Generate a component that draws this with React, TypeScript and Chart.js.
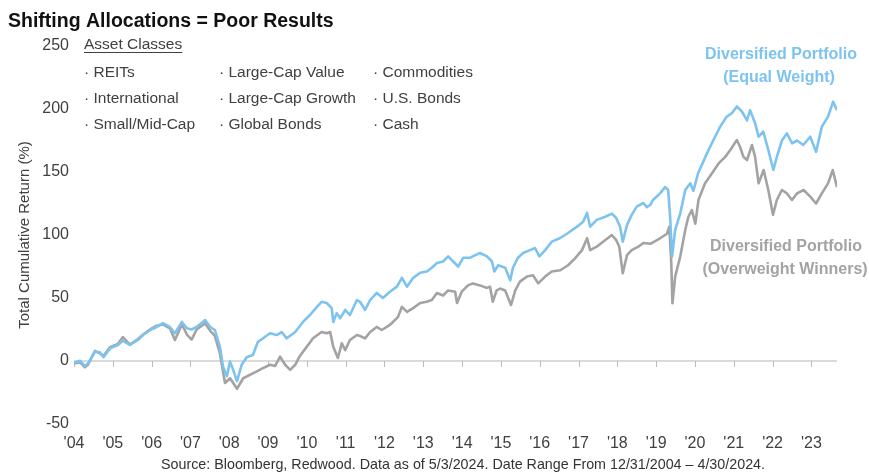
import React, { useEffect, useRef } from "react";
import { Chart, registerables } from "chart.js";

Chart.register(...registerables);

const START_YEAR = 2004;
const tickLabels = ["'04", "'05", "'06", "'07", "'08", "'09", "'10", "'11", "'12", "'13", "'14", "'15", "'16", "'17", "'18", "'19", "'20", "'21", "'22", "'23"];
const yTicks = [-50, 0, 50, 100, 150, 200, 250];

const assetClasses = [
  ["REITs", "Large-Cap Value", "Commodities"],
  ["International", "Large-Cap Growth", "U.S. Bonds"],
  ["Small/Mid-Cap", "Global Bonds", "Cash"],
];

// years elapsed since the '04 mark
const equalYears = [0.00, 0.16, 0.28, 0.36, 0.54, 0.67, 0.76, 0.93, 1.13, 1.26, 1.44, 1.65, 1.78, 1.96, 2.13, 2.29, 2.47, 2.60, 2.78, 2.91, 3.03, 3.16, 3.38, 3.51, 3.63, 3.76, 3.84, 3.94, 4.02, 4.10, 4.20, 4.32, 4.45, 4.61, 4.74, 4.87, 5.05, 5.22, 5.35, 5.48, 5.70, 5.90, 6.08, 6.26, 6.38, 6.51, 6.64, 6.68, 6.77, 6.86, 6.99, 7.11, 7.29, 7.37, 7.50, 7.63, 7.80, 7.96, 8.14, 8.32, 8.45, 8.58, 8.74, 8.92, 9.09, 9.22, 9.35, 9.51, 9.64, 9.77, 9.90, 10.03, 10.21, 10.34, 10.46, 10.64, 10.77, 10.83, 10.93, 11.11, 11.24, 11.31, 11.44, 11.57, 11.75, 11.88, 11.99, 12.14, 12.31, 12.53, 12.73, 12.96, 13.12, 13.22, 13.30, 13.47, 13.69, 13.86, 13.97, 14.07, 14.14, 14.25, 14.37, 14.50, 14.67, 14.76, 14.85, 14.92, 15.10, 15.23, 15.31, 15.36, 15.41, 15.49, 15.62, 15.75, 15.88, 15.96, 16.08, 16.31, 16.47, 16.65, 16.82, 16.95, 17.08, 17.21, 17.34, 17.42, 17.55, 17.64, 17.76, 17.89, 18.02, 18.11, 18.24, 18.37, 18.50, 18.63, 18.79, 18.97, 19.12, 19.27, 19.43, 19.56, 19.66];
const equalValues = [-1.3, 0.2, -4, -2, 7.4, 7, 3, 10, 12.7, 16, 12.7, 16.7, 20.6, 24.6, 27, 30, 27, 22, 31, 26, 25, 27, 32.5, 27, 24.6, 11.4, -4.5, -12, -0.5, -7, -16, -3, 3, 4.8, 15.3, 18, 22, 20.6, 23, 18, 23, 31, 36.5, 43, 47, 46, 42, 31, 38, 34, 40.5, 36.5, 48.4, 47, 40.5, 48.4, 54, 50, 55, 59, 66, 59, 66, 70, 71, 74, 77.8, 79, 83, 79, 75, 82, 82, 84, 85.7, 83, 79, 71, 76, 74, 64, 74, 82, 85.7, 88, 89.7, 83, 88, 94.7, 97.6, 101.6, 106.6, 110.6, 117.5, 106.6, 112, 114.5, 117, 113.5, 106.6, 94.7, 108, 116, 122.5, 125.4, 122, 124, 127.8, 133, 138, 135.7, 114.5, 82.8, 104, 117, 135.7, 141, 135, 149, 164.8, 175, 186, 194, 196.6, 202, 198, 191, 199, 188.6, 178, 182, 167.5, 151.6, 162, 175, 180.7, 172.8, 175, 171.4, 178, 166, 186, 194, 205.8, 199];

const overweightYears = [0.00, 0.16, 0.28, 0.36, 0.54, 0.67, 0.76, 0.93, 1.13, 1.26, 1.44, 1.65, 1.78, 1.96, 2.13, 2.29, 2.47, 2.60, 2.78, 2.91, 3.03, 3.16, 3.38, 3.51, 3.63, 3.76, 3.89, 4.02, 4.20, 4.36, 4.61, 4.87, 5.05, 5.18, 5.31, 5.44, 5.57, 5.70, 5.82, 6.00, 6.16, 6.38, 6.51, 6.60, 6.68, 6.80, 6.90, 6.99, 7.11, 7.29, 7.37, 7.50, 7.63, 7.80, 7.93, 8.14, 8.35, 8.45, 8.58, 8.74, 8.92, 9.09, 9.22, 9.35, 9.51, 9.64, 9.82, 9.87, 9.99, 10.15, 10.28, 10.46, 10.64, 10.72, 10.79, 10.89, 10.98, 11.11, 11.26, 11.37, 11.49, 11.67, 11.83, 11.96, 12.14, 12.31, 12.53, 12.73, 12.91, 13.09, 13.22, 13.30, 13.47, 13.69, 13.86, 13.97, 14.05, 14.14, 14.25, 14.37, 14.54, 14.67, 14.85, 15.10, 15.28, 15.34, 15.39, 15.42, 15.49, 15.62, 15.75, 15.83, 15.92, 16.01, 16.09, 16.26, 16.44, 16.61, 16.78, 16.91, 17.08, 17.16, 17.25, 17.34, 17.47, 17.55, 17.64, 17.77, 17.89, 18.01, 18.11, 18.24, 18.37, 18.50, 18.63, 18.80, 18.97, 19.12, 19.27, 19.43, 19.55, 19.66];
const overweightValues = [-2, -1, -5, -3, 8, 6, 4, 11, 13.5, 19, 13, 17.5, 21, 25, 28, 29, 26, 16.7, 29, 21, 17, 25, 30, 24, 20, 6, -17.5, -13.7, -22, -13.7, -9.8, -5.6, -3, -4, 3.4, -3, -7, -3, 4, 11.4, 18, 23, 22, 23, 11.4, 2.4, 14, 8.7, 16.7, 20.6, 19.8, 18, 23, 27, 24.6, 28.6, 35, 43, 39, 42, 46, 47, 48.4, 54, 52, 56, 55, 46, 55, 60, 61.6, 60, 58, 59, 47, 56, 57.5, 56, 44.4, 56, 63, 67, 68, 61.6, 67, 71, 72, 76, 81.5, 88, 97.4, 88, 90.7, 96, 100, 96, 90.7, 69.6, 84, 88, 90.7, 93.6, 93, 97.4, 101, 106.6, 77.5, 45.8, 67, 82.8, 104, 114.5, 119.8, 109, 127.8, 141, 149, 156.8, 162, 167.5, 175.4, 170, 162, 159.5, 171.4, 162, 141, 151.6, 135.7, 116, 127.8, 135.7, 133, 127.8, 133, 135.7, 130.5, 125, 133, 141, 151.6, 138];

const X_END = 19.66;

const FONT = "'Liberation Sans', Arial, sans-serif";
const BLUE = "#7dc3ef";
const GRAY = "#a3a3a3";
const TEXT = "#404040";

export default function App() {
  const ref = useRef<HTMLCanvasElement | null>(null);

  useEffect(() => {
    document.body.style.margin = "0";
    const canvas = ref.current;
    if (!canvas) return;

    const overlay = {
      id: "overlay",
      beforeDatasetsDraw(chart: any) {
        const { ctx, chartArea, scales } = chart;
        const x = scales.x;
        const y0 = scales.y.getPixelForValue(0);
        ctx.save();
        ctx.strokeStyle = "#cfcfcf";
        ctx.lineWidth = 1.5;
        ctx.beginPath();
        ctx.moveTo(chartArea.left, y0);
        ctx.lineTo(chartArea.right, y0);
        ctx.stroke();
        ctx.lineWidth = 1;
        ctx.strokeStyle = "#bdbdbd";
        tickLabels.forEach((_, i) => {
          const px = Math.round(x.getPixelForValue(START_YEAR + i)) + 0.5;
          ctx.beginPath();
          ctx.moveTo(px, y0);
          ctx.lineTo(px, y0 + 6);
          ctx.stroke();
        });
        ctx.restore();
      },
      afterDraw(chart: any) {
        const { ctx } = chart;
        ctx.save();
        // title
        ctx.fillStyle = "#111";
        ctx.font = `bold 19.5px ${FONT}`;
        ctx.textBaseline = "alphabetic";
        ctx.textAlign = "left";
        ctx.fillText("Shifting Allocations = Poor Results", 8, 27);

        // asset classes box
        ctx.fillStyle = TEXT;
        ctx.font = `15.5px ${FONT}`;
        ctx.textBaseline = "middle";
        ctx.fillText("Asset Classes", 84, 45);
        const w = ctx.measureText("Asset Classes").width;
        ctx.fillRect(84, 52, w, 1);
        const cols = [84, 219, 373];
        const rows = [73, 99, 125];
        assetClasses.forEach((row, r) => {
          row.forEach((label, c) => {
            ctx.fillText("\u00b7 " + label, cols[c], rows[r]);
          });
        });

        // series annotations
        ctx.textAlign = "center";
        ctx.font = `bold 16px ${FONT}`;
        ctx.fillStyle = BLUE;
        ctx.fillText("Diversified Portfolio", 781, 55);
        ctx.fillText("(Equal Weight)", 779, 78);
        ctx.fillStyle = GRAY;
        ctx.fillText("Diversified Portfolio", 786, 247);
        ctx.fillText("(Overweight Winners)", 785, 270);

        // source
        ctx.fillStyle = "#333";
        ctx.font = `14.3px ${FONT}`;
        ctx.fillText("Source: Bloomberg, Redwood. Data as of 5/3/2024. Date Range From 12/31/2004 \u2013 4/30/2024.", 463, 465);
        ctx.restore();
      },
    };

    const chart = new Chart(canvas, {
      type: "line",
      data: {
        datasets: [
          {
            label: "Diversified Portfolio (Equal Weight)",
            data: equalYears.map((t, i) => ({ x: START_YEAR + t, y: equalValues[i] })),
            borderColor: BLUE,
            borderWidth: 2.6,
            pointRadius: 0,
            tension: 0,
            borderJoinStyle: "round",
          },
          {
            label: "Diversified Portfolio (Overweight Winners)",
            data: overweightYears.map((t, i) => ({ x: START_YEAR + t, y: overweightValues[i] })),
            borderColor: GRAY,
            borderWidth: 2.6,
            pointRadius: 0,
            tension: 0,
            borderJoinStyle: "round",
          },
        ],
      },
      options: {
        animation: false,
        responsive: false,
        maintainAspectRatio: false,
        layout: { padding: { left: 0, right: 32, top: 46, bottom: 10 } },
        plugins: { legend: { display: false }, tooltip: { enabled: false }, title: { display: false } },
        scales: {
          x: {
            type: "linear",
            min: START_YEAR,
            max: START_YEAR + X_END,
            grid: { display: false, drawTicks: false },
            border: { display: false },
            afterBuildTicks: (s: any) => {
              s.ticks = tickLabels.map((_, i) => ({ value: START_YEAR + i }));
            },
            afterFit: (s: any) => {
              s.height = 40;
            },
            ticks: {
              autoSkip: false,
              maxRotation: 0,
              padding: 10,
              color: TEXT,
              font: { family: FONT, size: 16 },
              callback: (v: any) => tickLabels[Math.round(Number(v) - START_YEAR)],
            },
          },
          y: {
            min: -50,
            max: 250,
            grid: { display: false, drawTicks: false },
            border: { display: false },
            afterBuildTicks: (s: any) => {
              s.ticks = yTicks.map((v) => ({ value: v }));
            },
            afterFit: (s: any) => {
              s.width = 74;
            },
            ticks: {
              padding: 5,
              color: TEXT,
              font: { family: FONT, size: 16 },
            },
            title: {
              display: true,
              text: "Total Cumulative Return (%)",
              color: TEXT,
              font: { family: FONT, size: 15 },
              padding: { top: 16, bottom: 0 },
            },
          },
        },
      },
      plugins: [overlay],
    });

    return () => chart.destroy();
  }, []);

  return (
    <div style={{ width: 869, height: 474, position: "relative", background: "#fff" }}>
      <canvas ref={ref} width={869} height={474} style={{ display: "block", width: 869, height: 474 }} />
    </div>
  );
}
